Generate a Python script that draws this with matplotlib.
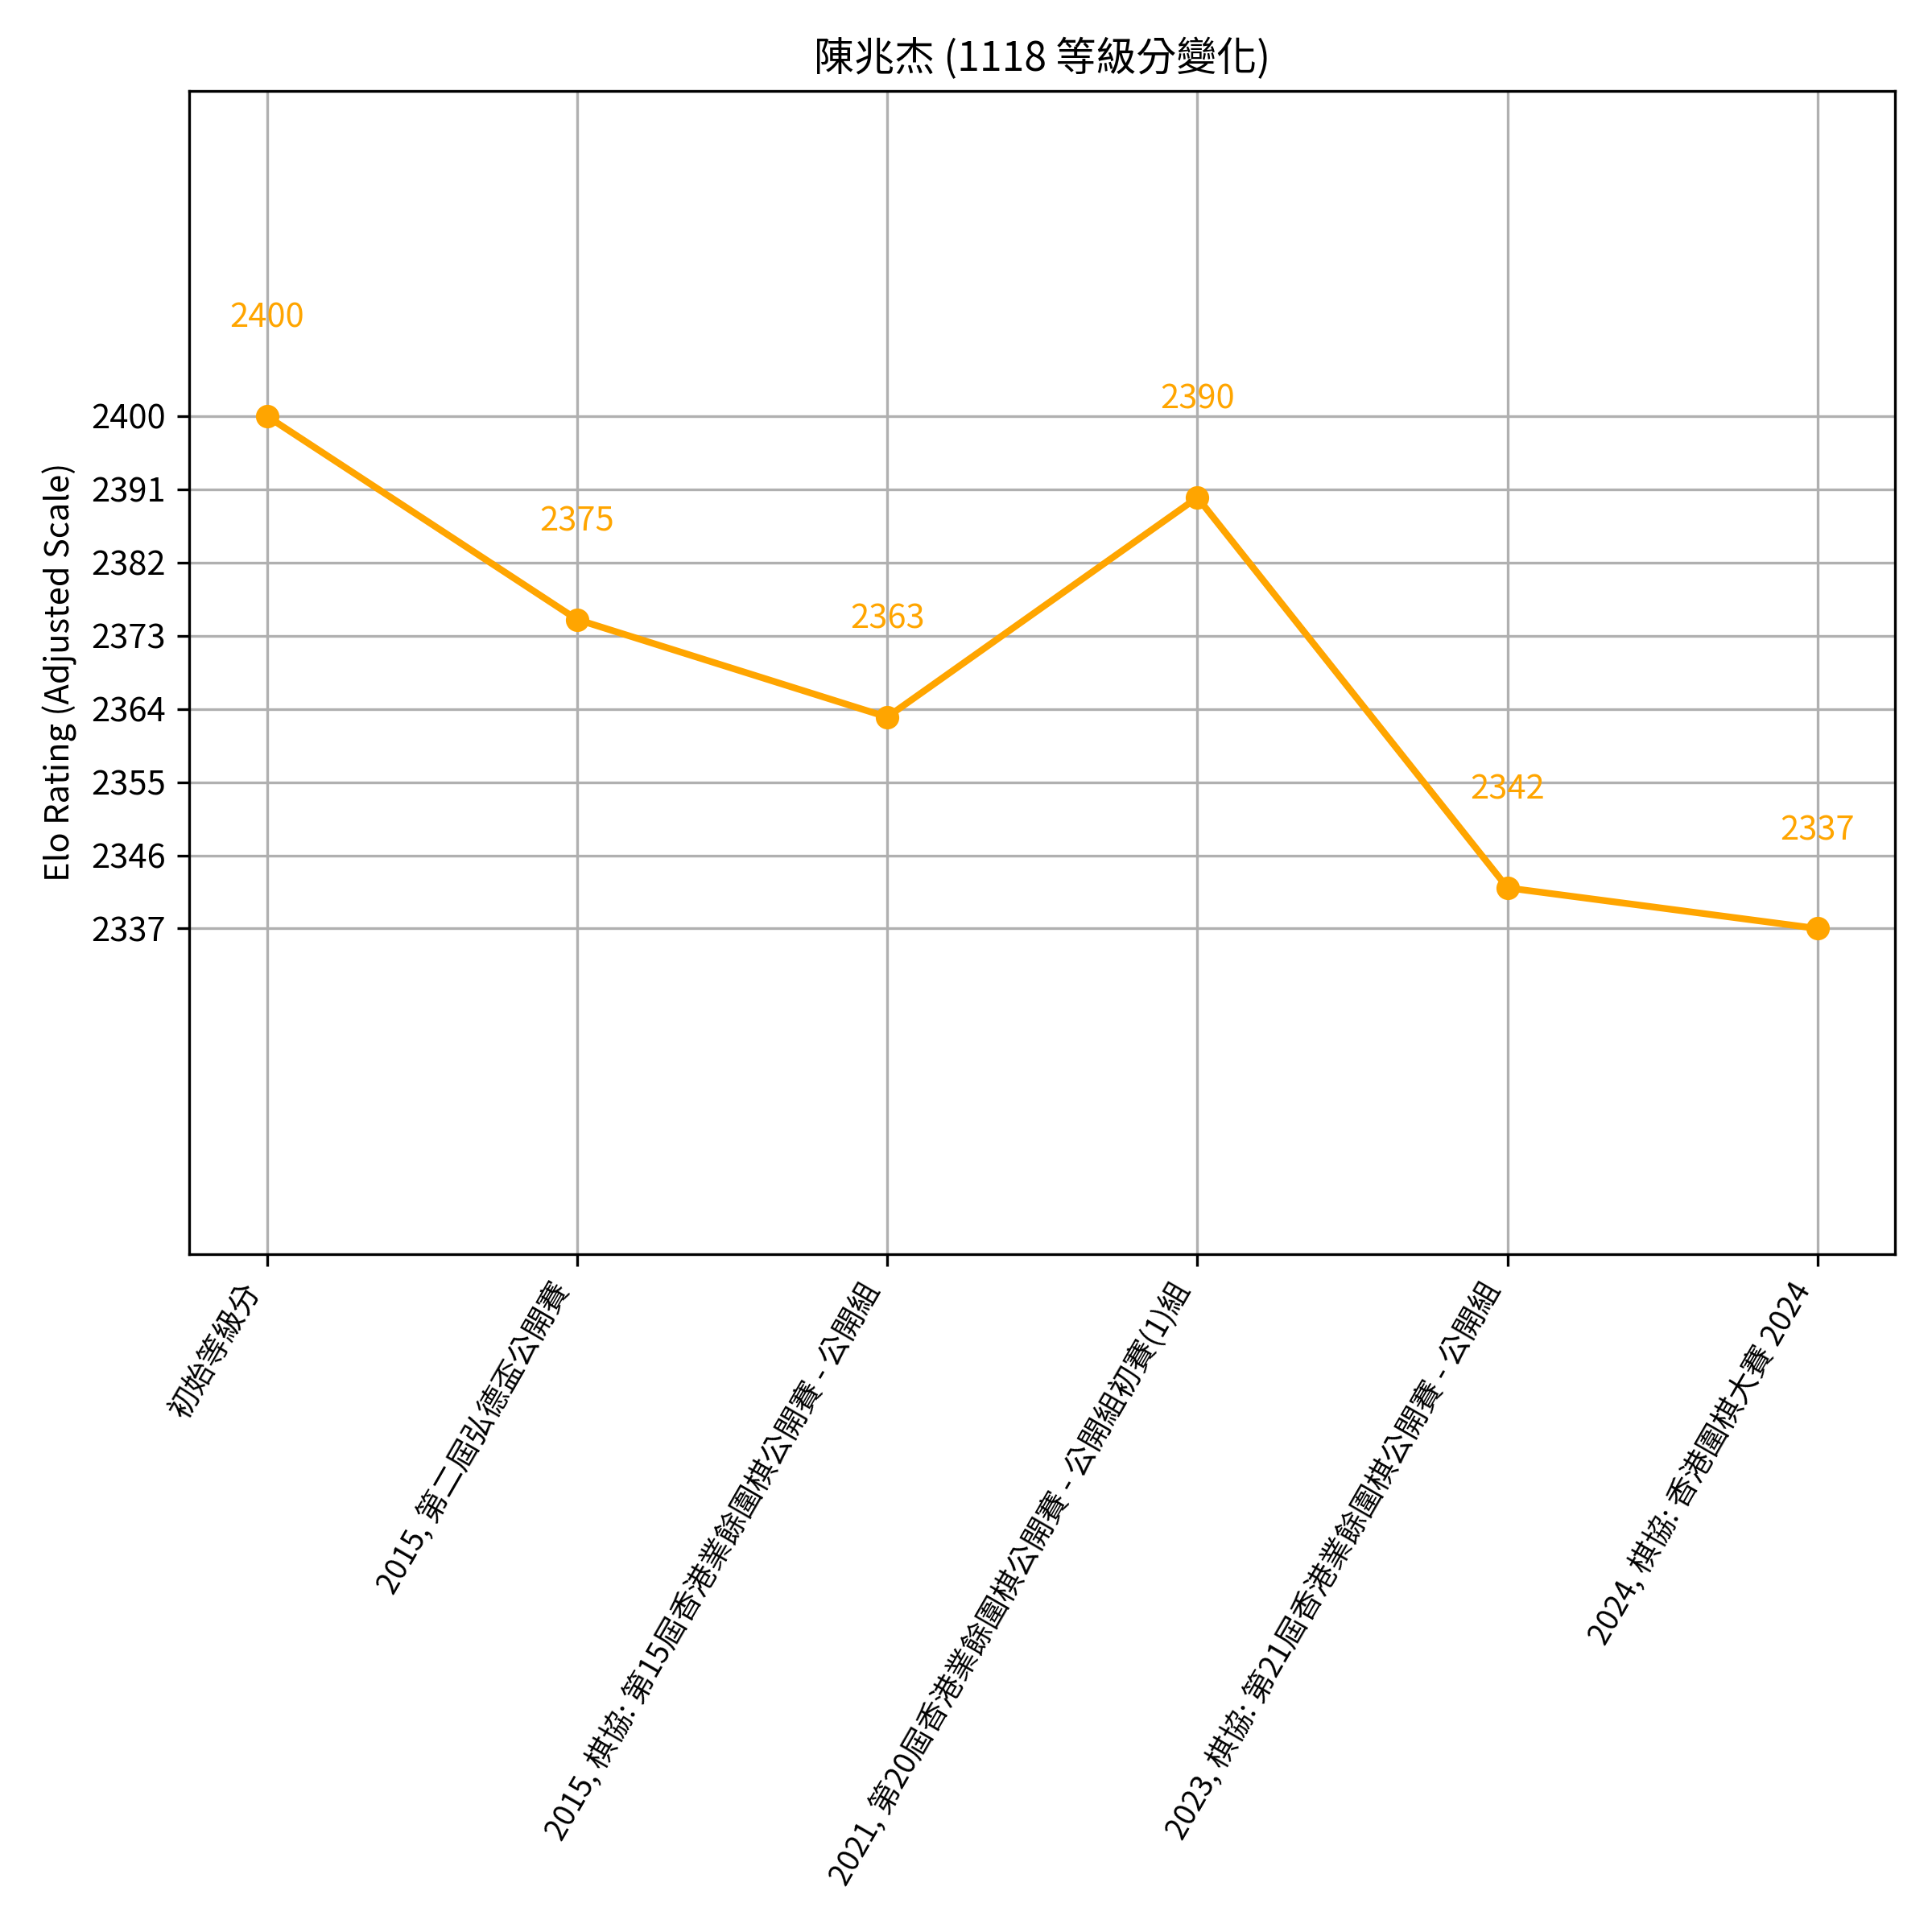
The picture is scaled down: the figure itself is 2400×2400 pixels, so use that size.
import numpy as np
import matplotlib.pyplot as plt

plt.rcParams['font.family'] = ['Noto Sans CJK TC', 'DejaVu Sans']

events = ["初始等級分",
          "2015, 第二屆弘德盃公開賽",
          "2015, 棋協: 第15屆香港業餘圍棋公開賽 - 公開組",
          "2021, 第20屆香港業餘圍棋公開賽 - 公開組初賽(1)組",
          "2023, 棋協: 第21屆香港業餘圍棋公開賽 - 公開組",
          "2024, 棋協: 香港圍棋大賽 2024"]
ratings = [2400, 2375, 2363, 2390, 2342, 2337]

x = np.arange(len(events))
fig = plt.figure(figsize=(8, 8), dpi=300)
ax = fig.add_subplot(111)
ax.plot(x, ratings, marker='o', color='orange', linewidth=2, markersize=6)
for i, r in enumerate(ratings):
    ax.text(x[i], r + 10, str(r), ha='center', va='bottom', color='orange', fontsize=10)

lo, hi = min(ratings), max(ratings)
ax.set_ylim(lo - 40, hi + 40)
ax.set_yticks(np.linspace(lo, hi, 8))
ax.set_yticklabels([str(int(round(v))) for v in np.linspace(lo, hi, 8)], fontsize=10)
ax.set_xticks(x)
ax.set_xticklabels(events, rotation=60, ha='right', fontsize=9)
ax.set_ylabel("Elo Rating (Adjusted Scale)", fontsize=10)
ax.set_title("陳兆杰 (1118 等級分變化)", fontsize=12)
ax.grid(True)
fig.subplots_adjust(left=0.098, right=0.981, top=0.953, bottom=0.351)
fig.savefig("out.png", dpi=300)
